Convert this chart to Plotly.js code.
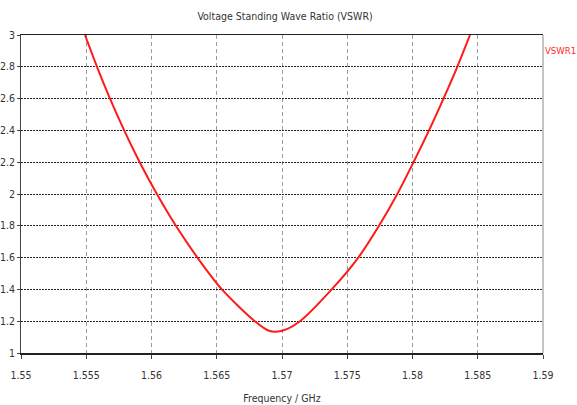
<!DOCTYPE html>
<html>
<head>
<meta charset="utf-8">
<script src="https://cdn.plot.ly/plotly-3.0.1.min.js"></script>
<style>html,body{margin:0;padding:0;background:#fff;}#chart{width:577px;height:405px;}</style>
</head>
<body>
<div id="chart"></div>
<script>
const freqGHz = [1.554904, 1.555824, 1.55682, 1.557908, 1.559096, 1.560414, 1.56187, 1.563517, 1.565395, 1.567923, 1.569, 1.57, 1.571379, 1.573808, 1.575847, 1.577433, 1.578835, 1.580077, 1.581264, 1.582375, 1.583433, 1.584406];
const vswr1 = [3.0, 2.8, 2.6, 2.4, 2.2, 2.0, 1.8, 1.6, 1.4, 1.2, 1.14, 1.14, 1.2, 1.4, 1.6, 1.8, 2.0, 2.2, 2.4, 2.6, 2.8, 3.0];
const xTicks = [1.55, 1.555, 1.56, 1.565, 1.57, 1.575, 1.58, 1.585, 1.59];
const yTicks = [1, 1.2, 1.4, 1.6, 1.8, 2, 2.2, 2.4, 2.6, 2.8, 3];
const seriesName = 'VSWR1';
const chartTitle = 'Voltage Standing Wave Ratio (VSWR)';
const xTitle = 'Frequency / GHz';

function hasFont(name) {
  const c = document.createElement('canvas').getContext('2d');
  const s = 'Voltage Standing Wave 1.585';
  c.font = '20px monospace'; const a = c.measureText(s).width;
  c.font = '20px "' + name + '", monospace'; const b = c.measureText(s).width;
  return Math.abs(a - b) > 0.5;
}
const narrow = hasFont('Liberation Sans Narrow');
const FONT = narrow ? '"Liberation Sans Narrow", sans-serif' : '"DejaVu Sans Condensed", sans-serif';
const FS = narrow ? 11.5 : 10.5;

const trace = {
  x: freqGHz, y: vswr1, type: 'scatter', mode: 'lines', name: seriesName,
  line: {color: '#ff1a1a', width: 2, shape: 'spline', smoothing: 0.8},
  showlegend: false
};

const layout = {
  width: 577, height: 405,
  margin: {l: 21, r: 34, t: 35, b: 52},
  paper_bgcolor: '#ffffff', plot_bgcolor: '#ffffff',
  font: {family: FONT, size: FS, color: '#333333'},
  title: {text: chartTitle, x: 0.494, xanchor: 'center', y: 0.97, yanchor: 'top', font: {family: FONT, size: FS, color: '#333333'}},
  xaxis: {
    range: [1.55, 1.59], tickvals: xTicks, ticktext: xTicks.map(String),
    showgrid: true, gridcolor: '#9a9a9a', griddash: '4px,3px', gridwidth: 1,
    showline: true, linecolor: '#222222', linewidth: 1.5, mirror: true,
    ticks: 'outside', ticklen: 4, tickcolor: '#444', zeroline: false,
    ticklabelstandoff: 8,
    tickfont: {family: FONT, size: FS, color: '#333'},
    title: {text: xTitle, standoff: 14, font: {family: FONT, size: FS, color: '#333'}}
  },
  yaxis: {
    range: [1, 3], tickvals: yTicks, ticktext: yTicks.map(String),
    showgrid: true, gridcolor: '#222222', griddash: '2px,1px', gridwidth: 1,
    showline: true, linecolor: '#444444', linewidth: 1, mirror: false,
    ticks: 'outside', ticklen: 3, tickcolor: '#444', zeroline: false,
    tickfont: {family: FONT, size: FS, color: '#333'}
  },
  shapes: [{
    type: 'line', xref: 'paper', yref: 'paper', x0: 1, x1: 1, y0: 0, y1: 1,
    line: {color: '#8a8a8a', width: 1}
  }],
  annotations: [{
    text: seriesName, xref: 'paper', yref: 'paper', x: 1.068, y: 0.95,
    xanchor: 'right', yanchor: 'middle', showarrow: false,
    font: {family: FONT, size: 9.5, color: '#ff2a2a'}
  }]
};

Plotly.newPlot('chart', [trace], layout, {displayModeBar: false, staticPlot: true});
</script>
</body>
</html>
